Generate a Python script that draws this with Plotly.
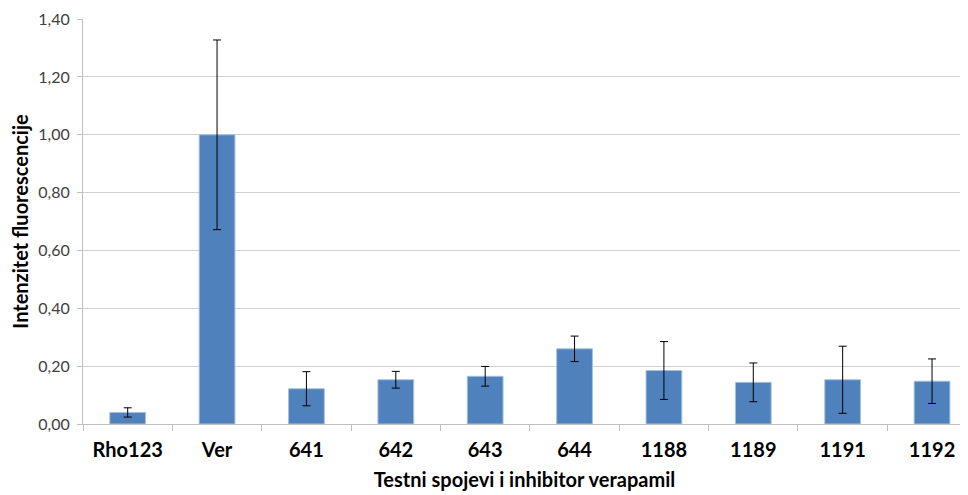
import plotly.graph_objects as go

categories = ["Rho123", "Ver", "641", "642", "643", "644", "1188", "1189", "1191", "1192"]
values = [0.040, 1.000, 0.122, 0.153, 0.165, 0.260, 0.185, 0.144, 0.153, 0.148]
errors = [0.016, 0.328, 0.059, 0.029, 0.034, 0.044, 0.100, 0.067, 0.116, 0.077]
y_ticks = [0, 0.2, 0.4, 0.6, 0.8, 1.0, 1.2, 1.4]

FONT = "Lato, 'Open Sans', sans-serif"

fig = go.Figure(go.Bar(
    x=categories, y=values,
    marker=dict(color="#4F81BD", line=dict(color="#A7C0DE", width=1)),
    error_y=dict(type="data", array=errors, visible=True, color="#000000", thickness=1, width=4),
    width=0.4,
))

fig.update_layout(
    width=960, height=487,
    margin=dict(l=75, r=2, t=11, b=71),
    plot_bgcolor="white", paper_bgcolor="white",
    separators=",.",
    showlegend=False,
    font=dict(family=FONT, color="#404040"),
    xaxis=dict(
        range=[-0.5, 9.38],
        showgrid=False,
        showline=True, linecolor="#BFBFBF", linewidth=1,
        ticks="outside", tickson="boundaries", ticklen=6, tickcolor="#BFBFBF",
        tickfont=dict(family=FONT, size=20, color="#000000", weight="bold"),
        ticklabelstandoff=8,
        title=dict(text="<b>Testni spojevi i inhibitor verapamil</b>", font=dict(family=FONT, size=20, color="#000000"), standoff=12),
        automargin=False,
    ),
    yaxis=dict(
        range=[0, 1.4005],
        tickvals=y_ticks, tickformat=".2f",
        showgrid=True, gridcolor="#D0D0D0", gridwidth=1,
        showline=True, linecolor="#BFBFBF", linewidth=1,
        ticks="outside", ticklen=5, tickcolor="#BFBFBF",
        tickfont=dict(family=FONT, size=16, color="#404040"),
        ticklabelstandoff=4,
        ticklabeloverflow="allow",
        zeroline=False,
        title=dict(text="<b>Intenzitet fluorescencije</b>", font=dict(family=FONT, size=20, color="#000000"), standoff=8),
        automargin=False,
    ),
)

fig.write_html("out.html")
